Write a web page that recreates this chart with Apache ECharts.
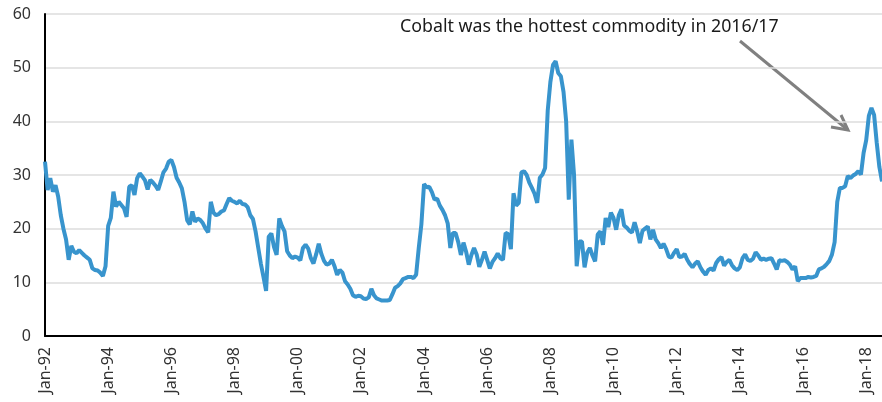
<!DOCTYPE html>
<html>
<head>
<meta charset="utf-8">
<script src="https://cdn.jsdelivr.net/npm/echarts@6/dist/echarts.min.js"></script>
<style>
  html, body { margin: 0; padding: 0; background: #fff; }
  #main { width: 882px; height: 402px; }
</style>
</head>
<body>
<div id="main"></div>
<script>
// cobalt price, monthly, Jan-92 .. Jul-18
const years = [92,93,94,95,96,97,98,99,0,1,2,3,4,5,6,7,8,9,10,11,12,13,14,15,16,17,18];
const monthNames = ['Jan','Feb','Mar','Apr','May','Jun','Jul','Aug','Sep','Oct','Nov','Dec'];

const price92 = [32.5, 27.2, 29.4, 26.9, 28.1, 26.0, 22.5, 20.0, 18.0, 14.2, 16.8, 15.7];
const price93 = [15.4, 16.0, 15.5, 15.0, 14.6, 14.2, 12.6, 12.3, 12.2, 11.8, 11.2, 13.0];
const price94 = [20.5, 22.0, 26.9, 24.1, 25.0, 24.4, 23.8, 22.2, 27.8, 28.1, 26.3, 29.4];
const price95 = [30.3, 29.7, 29.0, 27.3, 29.1, 28.6, 28.0, 27.2, 28.8, 30.5, 31.2, 32.5];
const price96 = [32.8, 31.5, 29.5, 28.6, 27.5, 25.0, 21.6, 20.8, 23.2, 21.3, 21.9, 21.6];
const price97 = [21.0, 20.0, 19.3, 25.0, 23.0, 22.5, 22.7, 23.2, 23.4, 24.6, 25.7, 25.2];
const price98 = [25.0, 24.7, 25.2, 24.6, 24.5, 24.0, 22.5, 21.8, 19.5, 16.5, 13.5, 11.0];
const price99 = [8.4, 18.5, 19.1, 16.6, 15.1, 21.9, 20.5, 19.5, 15.8, 15.0, 14.5, 14.8];
const price00 = [14.6, 14.1, 16.4, 17.0, 16.3, 14.5, 13.5, 15.2, 17.2, 15.3, 14.0, 13.3];
const price01 = [13.5, 14.2, 13.0, 11.4, 12.3, 11.8, 10.2, 9.6, 8.8, 7.6, 7.3, 7.5];
const price02 = [7.4, 7.0, 6.9, 7.2, 8.8, 7.6, 7.0, 6.8, 6.6, 6.6, 6.6, 6.7];
const price03 = [7.8, 9.0, 9.3, 9.8, 10.6, 10.8, 11.0, 11.0, 10.8, 11.4, 16.4, 20.8];
const price04 = [28.3, 27.7, 27.8, 26.8, 25.4, 25.6, 24.3, 23.5, 22.5, 21.0, 16.4, 19.2];
const price05 = [19.2, 17.5, 15.1, 17.4, 15.7, 13.3, 15.1, 16.4, 15.2, 12.9, 14.2, 15.7];
const price06 = [14.2, 12.6, 13.8, 14.5, 15.4, 14.5, 14.2, 19.2, 19.0, 16.2, 26.6, 24.3];
const price07 = [24.8, 30.5, 30.7, 30.0, 28.6, 27.6, 26.5, 24.8, 29.5, 30.1, 31.3, 42.0];
const price08 = [47.3, 50.5, 51.2, 49.0, 48.4, 45.5, 40.0, 25.4, 36.6, 30.0, 13.0, 17.6];
const price09 = [17.6, 12.8, 15.5, 16.4, 15.0, 13.9, 18.9, 19.5, 17.0, 22.0, 20.3, 23.0];
const price10 = [22.0, 19.8, 22.5, 23.6, 20.6, 20.2, 19.6, 19.3, 21.2, 19.5, 17.3, 19.6];
const price11 = [20.0, 20.4, 18.0, 19.8, 18.0, 17.3, 16.4, 17.2, 16.2, 14.8, 14.6, 15.5];
const price12 = [16.2, 14.7, 14.8, 15.3, 14.2, 13.4, 12.8, 13.5, 13.9, 12.8, 12.0, 11.4];
const price13 = [12.3, 12.6, 12.2, 13.6, 14.3, 14.7, 13.1, 13.8, 14.2, 13.2, 12.6, 12.3];
const price14 = [12.8, 14.5, 15.2, 14.2, 14.0, 14.4, 15.6, 15.0, 14.2, 14.4, 14.2, 14.4];
const price15 = [14.5, 13.5, 12.4, 14.1, 14.0, 14.1, 13.8, 13.3, 12.4, 13.0, 10.2, 10.8];
const price16 = [10.8, 10.8, 11.0, 10.9, 11.0, 11.2, 12.4, 12.6, 12.9, 13.4, 14.0, 15.2];
const price17 = [17.5, 25.0, 27.6, 27.6, 27.9, 29.8, 29.4, 29.9, 30.2, 30.7, 30.1, 34.1];
const price18 = [36.5, 41.0, 42.5, 41.2, 36.0, 31.5, 28.8];

const prices = [].concat(price92, price93, price94, price95, price96, price97, price98, price99,
  price00, price01, price02, price03, price04, price05, price06, price07, price08, price09,
  price10, price11, price12, price13, price14, price15, price16, price17, price18);

const months = [];
for (let y of years) {
  for (let m of monthNames) {
    months.push(m + '-' + String(y).padStart(2, '0'));
  }
}
months.length = prices.length;

const yTicks = [0, 10, 20, 30, 40, 50, 60];
const note = 'Cobalt was the hottest commodity in 2016/17';

const chart = echarts.init(document.getElementById('main'));
const option = {
  animation: false,
  grid: { left: 45, right: 0, top: 14, bottom: 66 },
  xAxis: {
    type: 'category',
    data: months,
    boundaryGap: false,
    axisLine: { lineStyle: { color: '#000', width: 2 } },
    axisTick: { show: false },
    axisLabel: {
      rotate: 90,
      margin: 11,
      interval: function (i) { return i % 24 === 0; },
      color: '#333',
      fontFamily: 'Noto Sans',
      fontSize: 16
    },
    splitLine: { show: false }
  },
  yAxis: {
    type: 'value',
    min: yTicks[0],
    max: yTicks[yTicks.length - 1],
    interval: 10,
    axisLine: { show: true, lineStyle: { color: '#000', width: 2 } },
    axisTick: { show: false },
    axisLabel: {
      margin: 14,
      color: '#333',
      fontFamily: 'Noto Sans',
      fontSize: 16
    },
    splitLine: { lineStyle: { color: '#dcdcdc', width: 1.5 } }
  },
  series: [
    {
      name: 'Cobalt',
      type: 'line',
      data: prices,
      showSymbol: false,
      color: '#3894cd',
      lineStyle: { width: 4, color: '#3894cd' },
      z: 3
    }
  ],
  graphic: [
    {
      type: 'text',
      left: 400,
      top: 18,
      style: { text: note, fill: '#1a1a1a', font: '17.8px "Noto Sans"' }
    },
    {
      type: 'line',
      shape: { x1: 740, y1: 41, x2: 848, y2: 130 },
      style: { stroke: '#808080', lineWidth: 3 }
    },
    {
      type: 'polyline',
      shape: { points: [[841, 115], [848, 130], [831, 127]] },
      style: { stroke: '#808080', lineWidth: 3, fill: null }
    }
  ]
};
chart.setOption(option);
</script>
</body>
</html>
